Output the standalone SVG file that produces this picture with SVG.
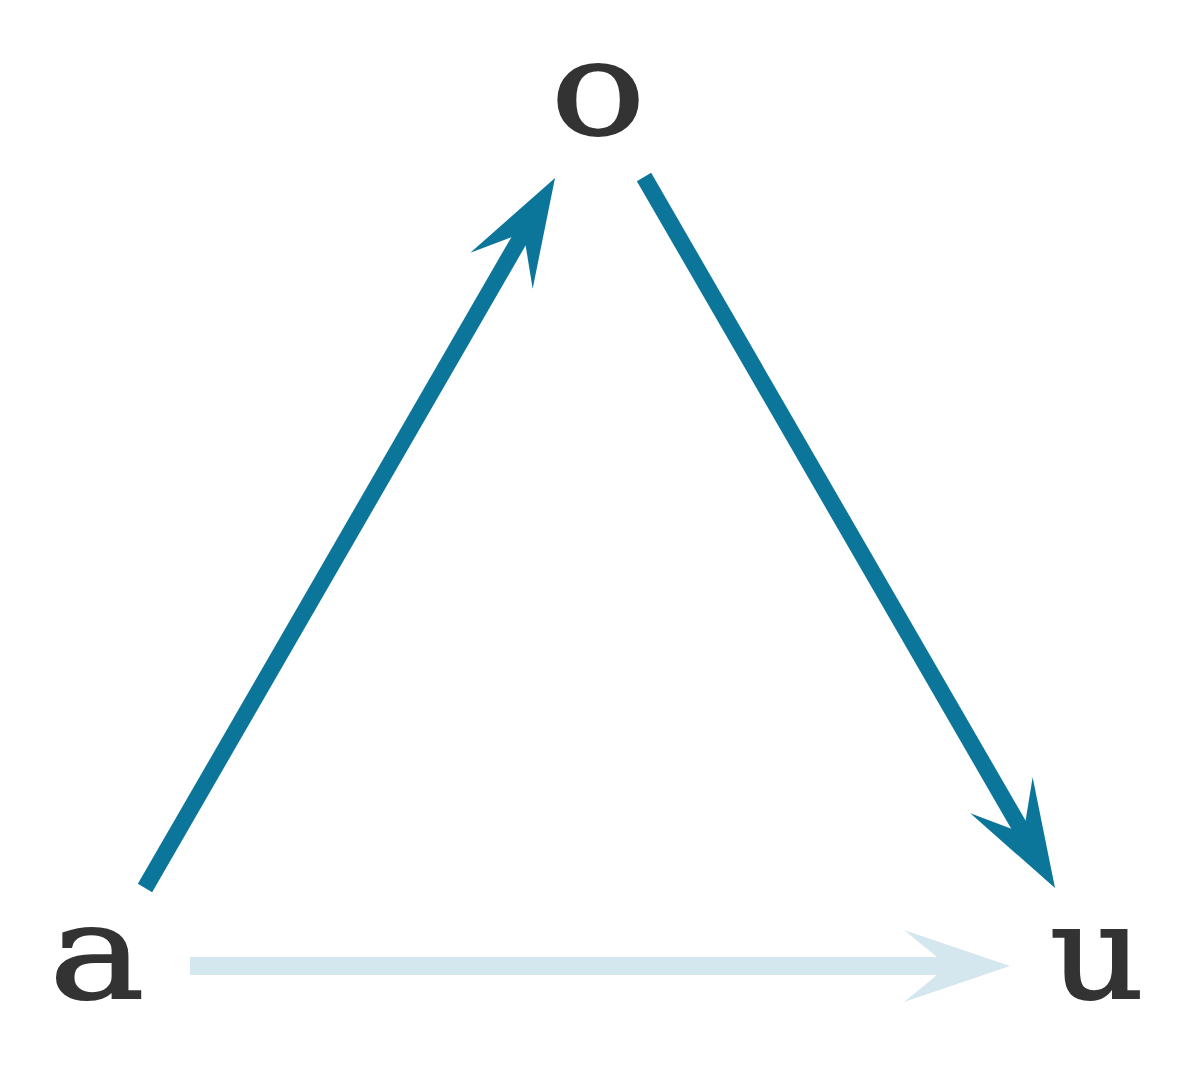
<svg xmlns="http://www.w3.org/2000/svg" width="1200" height="1066" viewBox="0 0 1200 1066">
<style>
.lbl{font-family:"DejaVu Serif","Liberation Serif",serif;font-size:131px;fill:#333333;stroke:#333333;stroke-width:2;text-anchor:middle}
.dark{stroke:#0c769a;stroke-width:16.5;fill:none}
.light{stroke:#d4e7ee;stroke-width:18;fill:none}
</style>
<defs>
<marker id="hd" markerUnits="userSpaceOnUse" viewBox="-60 -40 120 80" refX="0" refY="0" markerWidth="120" markerHeight="80" orient="auto" overflow="visible">
<path d="M50,0 L-57,-36 L-13,0 L-57,36 Z" fill="#0c769a"/>
</marker>
<marker id="hl" markerUnits="userSpaceOnUse" viewBox="-60 -40 120 80" refX="0" refY="0" markerWidth="120" markerHeight="80" orient="auto" overflow="visible">
<path d="M50,0 L-56,-36 L-12,0 L-56,36 Z" fill="#d4e7ee"/>
</marker>
</defs>
<g id="connectors">
<line class="dark" x1="145" y1="888" x2="530" y2="221.3" marker-end="url(#hd)"/>
<line class="dark" x1="644" y1="177" x2="1030" y2="844.7" marker-end="url(#hd)"/>
<line class="light" x1="190" y1="966" x2="960" y2="966" marker-end="url(#hl)"/>
</g>
<g id="node-o"><text class="lbl" transform="translate(598,134) scale(1.2,1)">o</text></g>
<g id="node-a"><text class="lbl" transform="translate(97,998) scale(1.22,1)">a</text></g>
<g id="node-u"><text class="lbl" transform="translate(1097,998) scale(1.12,1)">u</text></g>
</svg>
